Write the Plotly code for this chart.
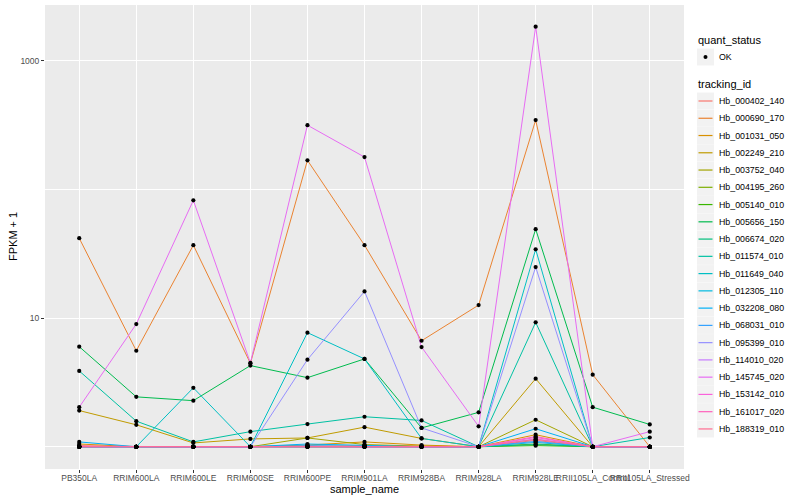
import plotly.graph_objects as go

samples = ["PB350LA", "RRIM600LA", "RRIM600LE", "RRIM600SE", "RRIM600PE", "RRIM901LA",
           "RRIM928BA", "RRIM928LA", "RRIM928LE", "RRII105LA_Control", "RRII105LA_Stressed"]

tracking_ids = ["Hb_000402_140", "Hb_000690_170", "Hb_001031_050", "Hb_002249_210", "Hb_003752_040",
                "Hb_004195_260", "Hb_005140_010", "Hb_005656_150", "Hb_006674_020", "Hb_011574_010",
                "Hb_011649_040", "Hb_012305_110", "Hb_032208_080", "Hb_068031_010", "Hb_095399_010",
                "Hb_114010_020", "Hb_145745_020", "Hb_153142_010", "Hb_161017_020", "Hb_188319_010"]

colors = ["#F8766D", "#EA8331", "#D89000", "#C09B00", "#A3A500", "#7CAE00", "#39B600", "#00BB4E",
          "#00BF7D", "#00C1A3", "#00BFC4", "#00BAE0", "#00B0F6", "#35A2FF", "#9590FF", "#C77CFF",
          "#E76BF3", "#FA62DB", "#FF62BC", "#FF6C91"]

Hb_000402_140 = [1.02, 1.0, 1.0, 1.0, 1.01, 1.02, 1.01, 1.0, 1.12, 1.0, 1.0]
Hb_000690_170 = [41.7, 5.57, 36.8, 4.45, 168, 36.8, 6.66, 12.6, 345, 3.63, 1.0]
Hb_001031_050 = [1.05, 1.0, 1.0, 1.0, 1.03, 1.09, 1.03, 1.0, 1.24, 1.0, 1.0]
Hb_002249_210 = [1.91, 1.48, 1.07, 1.15, 1.17, 1.42, 1.16, 1.0, 3.38, 1.0, 1.0]
Hb_003752_040 = [1.0, 1.0, 1.0, 1.0, 1.17, 1.04, 1.01, 1.0, 1.62, 1.0, 1.0]
Hb_004195_260 = [1.0, 1.0, 1.0, 1.0, 1.0, 1.0, 1.0, 1.0, 1.05, 1.0, 1.0]
Hb_005140_010 = [1.0, 1.0, 1.0, 1.0, 1.0, 1.0, 1.0, 1.0, 1.02, 1.0, 1.0]
Hb_005656_150 = [5.99, 2.44, 2.28, 4.27, 3.44, 4.81, 1.40, 1.85, 49.0, 2.03, 1.49]
Hb_006674_020 = [1.0, 1.0, 1.0, 1.0, 1.0, 1.0, 1.0, 1.0, 1.04, 1.0, 1.0]
Hb_011574_010 = [3.88, 1.58, 1.09, 1.31, 1.50, 1.71, 1.60, 1.0, 9.26, 1.0, 1.18]
Hb_011649_040 = [1.0, 1.0, 2.87, 1.0, 7.70, 4.81, 1.16, 1.0, 34.2, 1.0, 1.0]
Hb_012305_110 = [1.0, 1.0, 1.0, 1.0, 1.02, 1.0, 1.0, 1.0, 1.08, 1.0, 1.0]
Hb_032208_080 = [1.09, 1.0, 1.0, 1.0, 1.05, 1.02, 1.0, 1.0, 1.38, 1.0, 1.0]
Hb_068031_010 = [1.0, 1.0, 1.0, 1.0, 1.0, 1.01, 1.0, 1.0, 1.10, 1.0, 1.0]
Hb_095399_010 = [1.0, 1.0, 1.0, 1.0, 4.75, 16.1, 1.40, 1.0, 24.9, 1.0, 1.0]
Hb_114010_020 = [1.0, 1.0, 1.0, 1.0, 1.0, 1.0, 1.0, 1.0, 1.15, 1.0, 1.0]
Hb_145745_020 = [2.03, 8.98, 82.1, 4.48, 315, 178, 5.95, 1.44, 1834, 1.0, 1.31]
Hb_153142_010 = [1.01, 1.0, 1.0, 1.0, 1.01, 1.0, 1.0, 1.0, 1.18, 1.0, 1.0]
Hb_161017_020 = [1.0, 1.0, 1.0, 1.0, 1.0, 1.0, 1.0, 1.0, 1.20, 1.0, 1.0]
Hb_188319_010 = [1.0, 1.0, 1.0, 1.0, 1.0, 1.0, 1.0, 1.0, 1.14, 1.0, 1.0]

series = [Hb_000402_140, Hb_000690_170, Hb_001031_050, Hb_002249_210, Hb_003752_040,
          Hb_004195_260, Hb_005140_010, Hb_005656_150, Hb_006674_020, Hb_011574_010,
          Hb_011649_040, Hb_012305_110, Hb_032208_080, Hb_068031_010, Hb_095399_010,
          Hb_114010_020, Hb_145745_020, Hb_153142_010, Hb_161017_020, Hb_188319_010]

quant_status = ["OK"]
y_tickvals = [10, 1000]
y_ticktext = ["10", "1000"]

FONT = "Liberation Sans, Arial, sans-serif"
W, H = 800, 500
ML, MR, MT, MB = 45, 116, 5, 31
PW, PH = W - ML - MR, H - MT - MB


def px(xp):
    return (xp - ML) / PW


def py(yp):
    return (H - MB - yp) / PH


fig = go.Figure()

for tid, vals, col in zip(tracking_ids, series, colors):
    fig.add_trace(go.Scatter(
        x=samples, y=vals, mode="lines", name=tid,
        line=dict(color=col, width=1), showlegend=False,
    ))

all_x = [s for vals in series for s in samples]
all_y = [v for vals in series for v in vals]
fig.add_trace(go.Scatter(
    x=all_x, y=all_y, mode="markers", name=quant_status[0],
    marker=dict(color="black", size=4.2), showlegend=False,
))

# ---- manual ggplot-style legend ----
shapes = []
annotations = []
KX0, KX1 = 697, 714
TX = 717

annotations.append(dict(x=px(696), y=py(40), xref="paper", yref="paper", text="quant_status",
                        showarrow=False, xanchor="left", yanchor="middle",
                        font=dict(size=11, color="black", family=FONT)))
yc = 57
shapes.append(dict(type="rect", xref="paper", yref="paper", x0=px(KX0), x1=px(KX1),
                   y0=py(yc - 8.5), y1=py(yc + 8.5), fillcolor="#F2F2F2", line=dict(width=0), layer="above"))
shapes.append(dict(type="circle", xref="paper", yref="paper", x0=px(703.5), x1=px(707.5),
                   y0=py(yc - 2), y1=py(yc + 2), fillcolor="black", line=dict(width=0), layer="above"))
annotations.append(dict(x=px(TX), y=py(yc), xref="paper", yref="paper", text=quant_status[0],
                        showarrow=False, xanchor="left", yanchor="middle",
                        font=dict(size=8.8, color="black", family=FONT)))

annotations.append(dict(x=px(696), y=py(84), xref="paper", yref="paper", text="tracking_id",
                        showarrow=False, xanchor="left", yanchor="middle",
                        font=dict(size=11, color="black", family=FONT)))
for i, (tid, col) in enumerate(zip(tracking_ids, colors)):
    yc = 101 + 17.26 * i
    shapes.append(dict(type="rect", xref="paper", yref="paper", x0=px(KX0), x1=px(KX1),
                       y0=py(yc - 8.5), y1=py(yc + 8.5), fillcolor="#F2F2F2",
                       line=dict(width=0), layer="above"))
    shapes.append(dict(type="line", xref="paper", yref="paper", x0=px(698.5), x1=px(712.5),
                       y0=py(yc), y1=py(yc), line=dict(color=col, width=1.2), layer="above"))
    annotations.append(dict(x=px(TX), y=py(yc), xref="paper", yref="paper", text=tid,
                            showarrow=False, xanchor="left", yanchor="middle",
                            font=dict(size=8.8, color="black", family=FONT)))

# axis titles
annotations.append(dict(x=0.5, y=py(489), xref="paper", yref="paper", text="sample_name",
                        showarrow=False, xanchor="center", yanchor="middle",
                        font=dict(size=11, color="black", family=FONT)))
annotations.append(dict(x=px(13), y=py(237), xref="paper", yref="paper", text="FPKM + 1",
                        showarrow=False, xanchor="center", yanchor="middle", textangle=-90,
                        font=dict(size=11, color="black", family=FONT)))

fig.update_layout(
    width=W, height=H,
    margin=dict(l=ML, r=MR, t=MT, b=MB),
    paper_bgcolor="white",
    plot_bgcolor="#EBEBEB",
    font=dict(family=FONT, size=9, color="black"),
    showlegend=False,
    shapes=shapes,
    annotations=annotations,
    xaxis=dict(
        type="category", range=[-0.6, 10.6], automargin=False,
        showgrid=True, gridcolor="white", gridwidth=1.1,
        ticks="outside", ticklen=3, tickcolor="#333333", tickwidth=1,
        tickangle=0, ticklabelstandoff=-2,
        tickfont=dict(size=8.5, color="#4D4D4D", family=FONT),
        zeroline=False, showline=False,
    ),
    yaxis=dict(
        type="log", range=[-0.173, 3.432], automargin=False,
        tickmode="array", tickvals=y_tickvals, ticktext=y_ticktext,
        showgrid=True, gridcolor="white", gridwidth=1.1,
        minor=dict(tickmode="array", tickvals=[1, 100], showgrid=True, gridcolor="white", gridwidth=0.5, ticks=""),
        ticks="outside", ticklen=3, tickcolor="#333333", tickwidth=1,
        tickfont=dict(size=8.5, color="#4D4D4D", family=FONT),
        zeroline=False, showline=False,
    ),
)

fig.write_html("out.html", config={"displayModeBar": False},
               post_script="document.body.style.margin='0px';document.body.style.overflow='hidden';")
